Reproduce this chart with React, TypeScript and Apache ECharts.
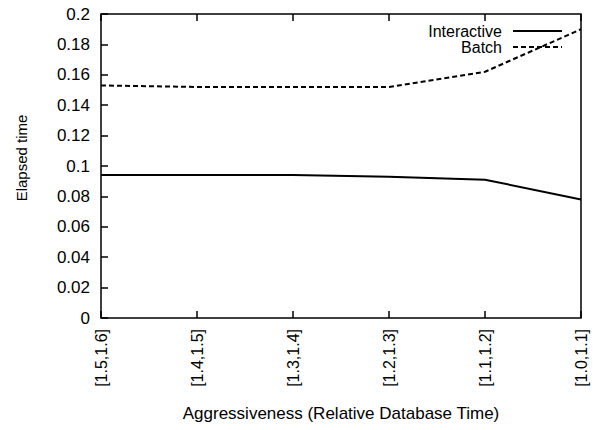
import React, { useEffect, useRef } from "react";
import * as echarts from "echarts";

const categories = ["[1.5,1.6]", "[1.4,1.5]", "[1.3,1.4]", "[1.2,1.3]", "[1.1,1.2]", "[1.0,1.1]"];
const interactive = [0.094, 0.094, 0.094, 0.093, 0.091, 0.078];
const batch = [0.153, 0.152, 0.152, 0.152, 0.162, 0.19];
const seriesNames = ["Interactive", "Batch"];
const yTitle = "Elapsed time";
const xTitle = "Aggressiveness (Relative Database Time)";

const FONT = "Liberation Sans, Arial, Helvetica, sans-serif";

export default function App() {
  const ref = useRef<HTMLDivElement>(null);
  useEffect(() => {
    if (!ref.current) return;
    const chart = echarts.init(ref.current, undefined, { renderer: "svg" });
    chart.setOption({
      animation: false,
      backgroundColor: "#fff",
      grid: {
        left: 101,
        right: 16,
        top: 14,
        bottom: 112,
        show: true,
        borderColor: "#000",
        borderWidth: 1.5,
        containLabel: false,
      },
      xAxis: [
        {
          type: "category",
          data: categories,
          boundaryGap: false,
          position: "bottom",
          axisLine: { show: false },
          axisTick: { show: true, inside: true, length: 7, lineStyle: { color: "#000", width: 1.5 } },
          axisLabel: {
            rotate: 90,
            margin: 11,
            color: "#000",
            fontSize: 16,
            fontFamily: FONT,
          },
          splitLine: { show: false },
          name: xTitle,
          nameLocation: "middle",
          nameGap: 87,
          nameTextStyle: { color: "#000", fontSize: 17, fontFamily: FONT },
        },
        {
          type: "category",
          data: categories,
          boundaryGap: false,
          position: "top",
          axisLine: { show: false },
          axisTick: { show: true, inside: true, length: 7, lineStyle: { color: "#000", width: 1.5 } },
          axisLabel: { show: false },
          splitLine: { show: false },
        },
      ],
      yAxis: [
        {
          type: "value",
          min: 0,
          max: 0.2,
          interval: 0.02,
          position: "left",
          axisLine: { show: false },
          axisTick: { show: true, inside: true, length: 7, lineStyle: { color: "#000", width: 1.5 } },
          axisLabel: {
            margin: 11,
            color: "#000",
            fontSize: 17,
            fontFamily: FONT,
            formatter: (v: number) => String(parseFloat(v.toFixed(2))),
          },
          splitLine: { show: false },
        },
      ],
      graphic: [
        {
          type: "text",
          x: 21,
          y: 158,
          rotation: Math.PI / 2,
          style: {
            text: yTitle,
            fill: "#000",
            font: `15px ${FONT}`,
            align: "center",
            verticalAlign: "middle",
          },
        },
        {
          type: "text",
          x: 502,
          y: 31,
          style: { text: seriesNames[0], fill: "#000", font: `16px ${FONT}`, align: "right", verticalAlign: "middle" },
        },
        {
          type: "line",
          shape: { x1: 513, y1: 31, x2: 562, y2: 31 },
          style: { stroke: "#000", lineWidth: 2 },
        },
        {
          type: "text",
          x: 502,
          y: 47,
          style: { text: seriesNames[1], fill: "#000", font: `16px ${FONT}`, align: "right", verticalAlign: "middle" },
        },
        {
          type: "line",
          shape: { x1: 513, y1: 47, x2: 562, y2: 47 },
          style: { stroke: "#000", lineWidth: 2, lineDash: [5, 3] },
        },
      ],
      series: [
        {
          name: seriesNames[0],
          type: "line",
          data: interactive,
          showSymbol: false,
          symbol: "none",
          lineStyle: { color: "#000", width: 2 },
        },
        {
          name: seriesNames[1],
          type: "line",
          data: batch,
          showSymbol: false,
          symbol: "none",
          lineStyle: { color: "#000", width: 2, type: [5, 3] },
        },
      ],
    });
    return () => chart.dispose();
  }, []);
  return <div ref={ref} style={{ width: 597, height: 430, position: "absolute", left: 0, top: 0 }} />;
}
